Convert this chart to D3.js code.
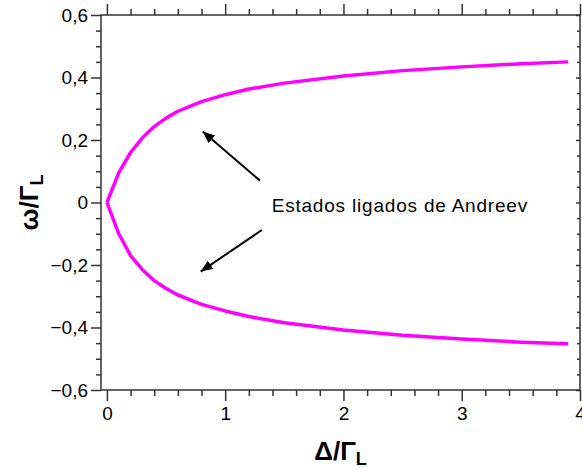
<!DOCTYPE html>
<html>
<head>
<meta charset="utf-8">
<script src="https://cdnjs.cloudflare.com/ajax/libs/d3/7.8.5/d3.min.js"></script>
<style>
  body { margin: 0; background: #fff; }
  text { font-family: "Liberation Sans", Arial, sans-serif; }
</style>
</head>
<body>
<div id="chart"></div>
<script>
(function () {
  'use strict';

  // curve data
  var deltaVals = [0, 0.1, 0.2, 0.3, 0.4, 0.5, 0.6, 0.8, 1.0, 1.2, 1.5, 2.0, 2.5, 3.0, 3.5, 3.9];
  var upperVals = [0, 0.095, 0.160, 0.207, 0.243, 0.270, 0.292, 0.323, 0.345, 0.363, 0.382, 0.405, 0.422, 0.434, 0.444, 0.450];
  var lowerVals = [0, -0.100, -0.170, -0.215, -0.250, -0.275, -0.296, -0.326, -0.347, -0.365, -0.385, -0.408, -0.425, -0.437, -0.447, -0.452];

  var xMajorTicks = [0, 1, 2, 3, 4];
  var yMajorTicks = [-0.6, -0.4, -0.2, 0, 0.2, 0.4, 0.6];

  var width = 582, height = 468;
  var margin = { top: 15, right: 2, bottom: 78, left: 101 };
  var plotW = width - margin.left - margin.right;
  var plotH = height - margin.top - margin.bottom;

  var svg = d3.select("#chart").append("svg")
      .attr("width", width)
      .attr("height", height);

  var g = svg.append("g")
      .attr("transform", "translate(" + margin.left + "," + margin.top + ")");

  var x = d3.scaleLinear().domain([-0.05, 4.0]).range([0, plotW]);
  var y = d3.scaleLinear().domain([-0.6, 0.6]).range([plotH, 0]);

  var locale = d3.formatLocale({ decimal: ",", thousands: ".", grouping: [3], currency: ["", ""], minus: "\u2212" });
  var yFmt = function (d) { return d === 0 ? "0" : locale.format(".1f")(d); };
  var xFmt = locale.format("d");

  var xMinor = d3.range(0, 4.01, 0.2).filter(function (d) { return Math.abs(d - Math.round(d)) > 1e-6; });
  var yMinor = d3.range(-0.6, 0.601, 0.05).filter(function (d) {
    return Math.abs(d * 5 - Math.round(d * 5)) > 1e-6;
  });

  function styleAxis(sel) {
    sel.selectAll(".domain").remove();
    sel.selectAll("line").attr("stroke", "#333").attr("stroke-width", 1.5);
    sel.selectAll("text").attr("fill", "#000").style("font-size", "19px");
  }

  // bottom
  g.append("g").attr("transform", "translate(0," + plotH + ")")
    .call(d3.axisBottom(x).tickValues(xMajorTicks).tickSize(11).tickPadding(6).tickFormat(xFmt))
    .call(styleAxis);
  g.append("g").attr("transform", "translate(0," + plotH + ")")
    .call(d3.axisBottom(x).tickValues(xMinor).tickSize(6).tickFormat(""))
    .call(styleAxis);
  // top
  g.append("g")
    .call(d3.axisTop(x).tickValues(xMajorTicks).tickSize(11).tickFormat(""))
    .call(styleAxis);
  g.append("g")
    .call(d3.axisTop(x).tickValues(xMinor).tickSize(6).tickFormat(""))
    .call(styleAxis);
  // left
  g.append("g")
    .call(d3.axisLeft(y).tickValues(yMajorTicks).tickSize(10).tickPadding(3).tickFormat(yFmt))
    .call(styleAxis);
  g.append("g")
    .call(d3.axisLeft(y).tickValues(yMinor).tickSize(5).tickFormat(""))
    .call(styleAxis);
  // right
  g.append("g").attr("transform", "translate(" + plotW + ",0)")
    .call(d3.axisLeft(y).tickValues(yMajorTicks).tickSize(4).tickFormat(""))
    .call(styleAxis);
  g.append("g").attr("transform", "translate(" + plotW + ",0)")
    .call(d3.axisLeft(y).tickValues(yMinor).tickSize(3).tickFormat(""))
    .call(styleAxis);

  // frame
  g.append("rect")
    .attr("width", plotW).attr("height", plotH)
    .attr("fill", "none").attr("stroke", "#333").attr("stroke-width", 1.5);

  // curves
  var line = d3.line()
      .x(function (d) { return x(d[0]); })
      .y(function (d) { return y(d[1]); });

  [upperVals, lowerVals].forEach(function (vals) {
    g.append("path")
      .datum(deltaVals.map(function (d, i) { return [d, vals[i]]; }))
      .attr("d", line)
      .attr("fill", "none")
      .attr("stroke", "#ff00ff")
      .attr("stroke-width", 3.5)
      .attr("stroke-linejoin", "round");
  });

  // annotation
  svg.append("defs").append("marker")
    .attr("id", "head")
    .attr("viewBox", "0 0 12 10")
    .attr("refX", 12).attr("refY", 5)
    .attr("markerWidth", 12).attr("markerHeight", 10)
    .attr("markerUnits", "userSpaceOnUse")
    .attr("orient", "auto")
    .append("path").attr("d", "M0,0 L12,5 L0,10 Z").attr("fill", "#000");

  var arrows = [
    { from: [1.294, 0.070], to: [0.81, 0.227] },
    { from: [1.31, -0.088], to: [0.793, -0.221] }
  ];
  arrows.forEach(function (a) {
    g.append("line")
      .attr("x1", x(a.from[0])).attr("y1", y(a.from[1]))
      .attr("x2", x(a.to[0])).attr("y2", y(a.to[1]))
      .attr("stroke", "#000").attr("stroke-width", 2)
      .attr("marker-end", "url(#head)");
  });

  g.append("text")
    .attr("x", x(1.393)).attr("y", y(-0.03))
    .style("font-size", "19px")
    .style("letter-spacing", "0.8px")
    .text("Estados ligados de Andreev");

  // axis titles
  var xt = svg.append("text")
    .attr("x", margin.left + plotW / 2)
    .attr("y", 460)
    .attr("text-anchor", "middle")
    .style("font-size", "26px").style("font-weight", "bold");
  xt.append("tspan").text("\u0394/\u0393");
  xt.append("tspan").attr("dy", 5).style("font-size", "18px").text("L");

  var yt = svg.append("text")
    .attr("transform", "translate(38," + (margin.top + plotH / 2) + ") rotate(-90)")
    .attr("text-anchor", "middle")
    .style("font-size", "26px").style("font-weight", "bold");
  yt.append("tspan").text("\u03c9/\u0393");
  yt.append("tspan").attr("dy", 5).style("font-size", "18px").text("L");
}());
</script>
</body>
</html>
